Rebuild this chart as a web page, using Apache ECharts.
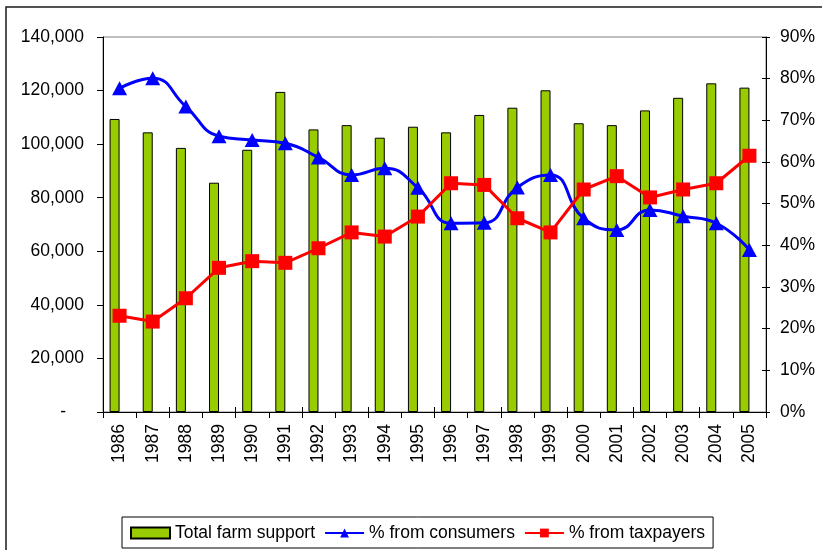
<!DOCTYPE html>
<html>
<head>
<meta charset="utf-8">
<script src="https://cdn.jsdelivr.net/npm/echarts@6/dist/echarts.min.js"></script>
<style>
html,body{margin:0;padding:0;background:#fff}
#chart{width:822px;height:550px}
</style>
</head>
<body>
<div id="chart"></div>
<script>
var years = ['1986','1987','1988','1989','1990','1991','1992','1993','1994','1995',
             '1996','1997','1998','1999','2000','2001','2002','2003','2004','2005'];
// total farm support (bars, left axis)
var farmSupport = [109400,104400,98600,85600,97900,119500,105500,107100,102400,106500,
                   104400,110900,113600,120100,107800,107100,112600,117300,122700,121100];
// shares in percent (right axis)
var fromConsumers = [77.7,80.1,73.3,66.2,65.3,64.5,61.1,56.9,58.5,53.8,
                     45.3,45.4,53.9,56.9,46.5,43.7,48.5,47.0,45.3,38.9];
var fromTaxpayers = [23.1,21.7,27.3,34.6,36.2,35.8,39.3,43.1,42.1,46.9,
                     54.9,54.5,46.5,43.1,53.4,56.6,51.5,53.4,54.9,61.5];
var leftMax = 140000, leftStep = 20000;
var rightMax = 90, rightStep = 10;

var font = "'Liberation Sans', Arial, sans-serif";
var fs = 17.5;
var myChart = echarts.init(document.getElementById('chart'));

var option = {
    backgroundColor: '#fff',
    textStyle: {fontFamily: font, color: '#000'},
    animation: false,
    grid: {
        left: 103, right: 56, top: 37, bottom: 138,
        show: true,
        borderColor: '#808080',
        borderWidth: 1
    },
    graphic: [{
        type: 'rect',
        shape: {x: 6, y: 7, width: 900, height: 700},
        style: {fill: 'none', stroke: '#1a1a1a', lineWidth: 1.5},
        silent: true
    }],
    legend: {
        left: 122, top: 517,
        padding: [7, 8, 6, 8],
        borderColor: '#000', borderWidth: 1,
        itemWidth: 39, itemHeight: 11, itemGap: 9,
        textStyle: {fontFamily: font, fontSize: fs, color: '#000'},
        data: [
            {name: 'Total farm support', icon: 'rect'},
            {name: '% from consumers'},
            {name: '% from taxpayers'}
        ]
    },
    xAxis: [
        {
            type: 'category',
            data: years,
            axisLine: {lineStyle: {color: '#000', width: 1}},
            axisTick: {show: true, length: 6, lineStyle: {color: '#000'}},
            axisLabel: {rotate: 90, margin: 12, fontSize: fs, color: '#000', fontFamily: font}
        },
        {
            // inner half of the crossing ticks
            type: 'category',
            position: 'bottom',
            data: years,
            axisLine: {show: false},
            axisTick: {show: true, inside: true, length: 5, lineStyle: {color: '#000'}},
            axisLabel: {show: false}
        }
    ],
    yAxis: [
        {
            type: 'value',
            min: 0, max: leftMax, interval: leftStep,
            axisLine: {show: true, lineStyle: {color: '#000'}},
            axisTick: {show: true, length: 6, lineStyle: {color: '#000'}},
            splitLine: {show: false},
            axisLabel: {
                margin: 19, fontSize: fs, color: '#000', fontFamily: font,
                formatter: function (v) {
                    if (v === 0) return '{dash|-}';
                    return v.toLocaleString('en-US');
                },
                rich: {dash: {fontSize: fs, fontFamily: font, color: '#000', padding: [0, 18, 0, 0]}}
            }
        },
        {
            type: 'value',
            position: 'right',
            min: 0, max: rightMax, interval: rightStep,
            axisLine: {show: true, lineStyle: {color: '#000'}},
            axisTick: {show: true, length: 4, lineStyle: {color: '#000'}},
            splitLine: {show: false},
            axisLabel: {
                margin: 14, fontSize: fs, color: '#000', fontFamily: font,
                formatter: '{value}%'
            }
        },
        {
            // inner half of the crossing ticks on the right axis
            type: 'value',
            position: 'right',
            min: 0, max: rightMax, interval: rightStep,
            axisLine: {show: false},
            axisTick: {show: true, inside: true, length: 4, lineStyle: {color: '#000'}},
            axisLabel: {show: false},
            splitLine: {show: false}
        }
    ],
    series: [
        {
            name: 'Total farm support',
            type: 'bar',
            data: farmSupport,
            barWidth: 10,
            barGap: '0%',
            itemStyle: {color: '#99CC00', borderColor: '#000', borderWidth: 1}
        },
        {
            // empty series, keeps the bars left of the category centre like the original
            name: '',
            type: 'bar',
            data: [],
            barWidth: 10,
            barGap: '0%'
        },
        {
            name: '% from consumers',
            type: 'line',
            yAxisIndex: 1,
            data: fromConsumers,
            smooth: 0.5,
            symbol: 'triangle',
            symbolSize: [15, 14],
            lineStyle: {color: '#0000FF', width: 3},
            itemStyle: {color: '#0000FF'},
            z: 3
        },
        {
            name: '% from taxpayers',
            type: 'line',
            yAxisIndex: 1,
            data: fromTaxpayers,
            symbol: 'rect',
            symbolSize: 14,
            lineStyle: {color: '#FF0000', width: 3},
            itemStyle: {color: '#FF0000'},
            z: 4
        }
    ]
};

myChart.setOption(option);
</script>
</body>
</html>
